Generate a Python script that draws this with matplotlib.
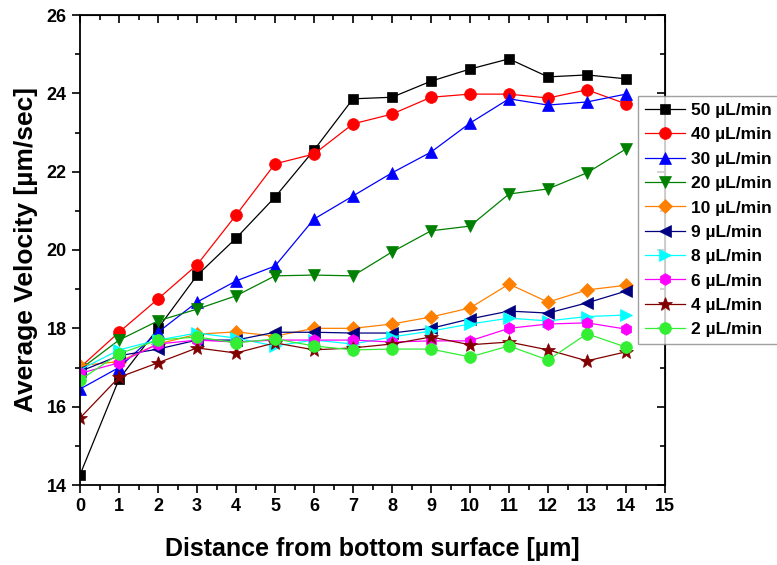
import matplotlib
matplotlib.use("Agg")
import matplotlib.pyplot as plt
from matplotlib.ticker import MultipleLocator

x = list(range(15))

v50 = [14.26, 16.7, 18.0, 19.35, 20.3, 21.35, 22.55, 23.86, 23.9, 24.31, 24.62, 24.88, 24.42, 24.47, 24.37]
v40 = [17.0, 17.9, 18.75, 19.62, 20.89, 22.2, 22.45, 23.22, 23.47, 23.9, 23.98, 23.98, 23.88, 24.09, 23.73]
v30 = [16.45, 17.0, 17.9, 18.67, 19.21, 19.59, 20.79, 21.38, 21.97, 22.5, 23.24, 23.86, 23.70, 23.78, 23.98]
v20 = [16.95, 17.7, 18.19, 18.49, 18.83, 19.34, 19.36, 19.34, 19.95, 20.49, 20.61, 21.43, 21.56, 21.97, 22.58]
v10 = [17.05, 17.15, 17.6, 17.85, 17.91, 17.8, 18.0, 18.0, 18.11, 18.29, 18.52, 19.13, 18.67, 18.98, 19.1]
v9 = [16.9, 17.3, 17.47, 17.7, 17.7, 17.9, 17.9, 17.88, 17.88, 18.0, 18.24, 18.44, 18.39, 18.65, 18.95]
v8 = [16.94, 17.45, 17.7, 17.88, 17.75, 17.55, 17.7, 17.6, 17.78, 17.93, 18.11, 18.26, 18.19, 18.3, 18.34]
v6 = [16.85, 17.12, 17.6, 17.7, 17.65, 17.7, 17.7, 17.7, 17.65, 17.68, 17.68, 18.0, 18.11, 18.14, 17.98]
v4 = [15.71, 16.75, 17.12, 17.5, 17.37, 17.63, 17.45, 17.5, 17.6, 17.78, 17.58, 17.65, 17.45, 17.17, 17.4]
v2 = [16.68, 17.35, 17.7, 17.78, 17.63, 17.73, 17.55, 17.45, 17.47, 17.47, 17.27, 17.55, 17.19, 17.86, 17.52]

labels = ["50 µL/min", "40 µL/min", "30 µL/min", "20 µL/min", "10 µL/min",
          "9 µL/min", "8 µL/min", "6 µL/min", "4 µL/min", "2 µL/min"]
series = [v50, v40, v30, v20, v10, v9, v8, v6, v4, v2]
colors = ["#000000", "#ff0000", "#0000ff", "#008000", "#ff8000",
          "#000080", "#00ffff", "#ff00ff", "#800000", "#33ee33"]
markers = ["s", "o", "^", "v", "D", "<", ">", "h", "*", "o"]
msizes = [7.5, 8.5, 8.5, 8.5, 7, 8.5, 8.5, 8.5, 10, 8.5]

fig = plt.figure(figsize=(7.77, 5.65), dpi=100)
ax = fig.add_axes([80/777, 1-485/565, 585/777, 470/565])

for vals, lab, c, m, ms in zip(series, labels, colors, markers, msizes):
    ax.plot(x, vals, color=c, marker=m, markersize=ms, linewidth=0.9,
            markeredgewidth=0.5, markeredgecolor=c, label=lab)

ax.set_xlim(0, 15)
ax.set_ylim(14, 26)
ax.xaxis.set_major_locator(MultipleLocator(1))
ax.xaxis.set_minor_locator(MultipleLocator(0.5))
ax.yaxis.set_major_locator(MultipleLocator(2))
ax.yaxis.set_minor_locator(MultipleLocator(1))
ax.tick_params(which="both", direction="out", width=1.2, labelsize=13)
ax.tick_params(which="major", length=6)
ax.tick_params(which="minor", length=3.5)
for s in ax.spines.values():
    s.set_linewidth(1.3)
for lab in ax.get_xticklabels() + ax.get_yticklabels():
    lab.set_fontfamily("Liberation Sans")
    lab.set_fontweight("bold")

secx = ax.secondary_xaxis("top")
secx.xaxis.set_major_locator(MultipleLocator(1))
secx.xaxis.set_minor_locator(MultipleLocator(0.5))
secx.tick_params(which="both", direction="in", labeltop=False, width=1.2)
secx.tick_params(which="major", length=6)
secx.tick_params(which="minor", length=3.5)
secy = ax.secondary_yaxis("right")
secy.yaxis.set_major_locator(MultipleLocator(2))
secy.yaxis.set_minor_locator(MultipleLocator(1))
secy.tick_params(which="both", direction="in", labelright=False, width=1.2)
secy.tick_params(which="major", length=6)
secy.tick_params(which="minor", length=3.5)

ax.set_xlabel("Distance from bottom surface [µm]", fontsize=18, fontweight="bold",
              fontfamily="Liberation Sans", va="center")
ax.xaxis.set_label_coords(0.5, (485 - 549) / 470)
ax.set_ylabel("Average Velocity [µm/sec]", fontsize=19, fontweight="bold",
              fontfamily="Liberation Sans", va="center", ha="center")
ax.yaxis.set_label_coords((26 - 80) / 585, 0.5)

leg = fig.legend(loc="upper left", bbox_to_anchor=(638/777, 1-96/565),
                 prop={"family": "Liberation Sans", "weight": "bold", "size": 12.5},
                 frameon=True, fancybox=False, edgecolor="#888888",
                 borderaxespad=0, handlelength=2.3, handletextpad=0.35,
                 labelspacing=0.53, borderpad=0.4)
leg.get_frame().set_linewidth(1.0)

fig.savefig("out.png", dpi=100)
